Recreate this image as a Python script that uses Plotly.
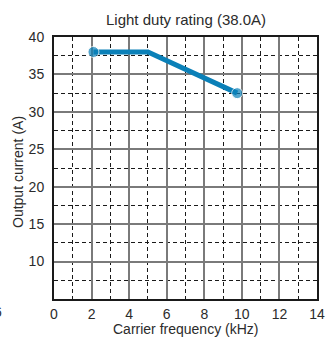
import plotly.graph_objects as go

# Derating curve: carrier frequency vs. allowed output current
freq_khz = [2.1, 5.0, 9.75]
current_a = [38.0, 38.0, 32.5]
marker_sizes = [11, 0, 11]

x_ticks = [0, 2, 4, 6, 8, 10, 12, 14]
y_ticks = [10, 15, 20, 25, 30, 35, 40]
x_minor = [1, 3, 5, 7, 9, 11, 13]
y_minor = [7.5, 12.5, 17.5, 22.5, 27.5, 32.5, 37.5]

W, H = 335, 339
L, R, T, B = 54, 18, 37, 40
PW = W - L - R
font_family = "Liberation Sans, Arial, sans-serif"
text_color = "#2b2b2b"
blue = "#0a80b8"

fig = go.Figure()
fig.add_trace(go.Scatter(
    x=freq_khz, y=current_a, mode="lines+markers",
    line=dict(color=blue, width=5),
    marker=dict(color=blue, size=marker_sizes),
    showlegend=False, cliponaxis=False,
))

axis_common = dict(
    showline=True, linecolor="#1a1a1a", linewidth=2, mirror=True,
    showgrid=True, gridcolor="#7a7a7a", gridwidth=1.5,
    zeroline=False, ticks="", fixedrange=True, automargin=False,
    tickfont=dict(family=font_family, size=14, color=text_color),
)
minor_grid = dict(showgrid=True, gridcolor="#1a1a1a",
                  griddash="4px,3px", gridwidth=1)

fig.update_xaxes(
    range=[0, 14], tickvals=x_ticks, **axis_common, ticklabelstandoff=1,
    minor=dict(tickvals=x_minor, **minor_grid),
)
fig.update_yaxes(
    range=[5, 40], tickvals=y_ticks, **axis_common, ticklabelstandoff=5,
    minor=dict(tickvals=y_minor, **minor_grid),
)

title_font = dict(family=font_family, size=14, color=text_color)
fig.add_annotation(
    text="Light duty rating (38.0A)", xref="paper", yref="paper",
    x=0.5, y=1, yshift=7, xanchor="center", yanchor="bottom",
    showarrow=False, font=dict(family=font_family, size=15, color=text_color),
)
fig.add_annotation(
    text="Carrier frequency (kHz)", xref="paper", yref="paper",
    x=0.5, y=0, yshift=-30, xanchor="center", yanchor="middle",
    showarrow=False, font=title_font,
)
fig.add_annotation(
    text="Output current (A)", xref="paper", yref="paper", textangle=-90,
    x=(18 - L) / PW, y=0.5, yshift=-4, xanchor="center", yanchor="middle",
    showarrow=False, font=title_font,
)
fig.add_annotation(
    text="6", xref="paper", yref="paper",
    x=(4 - L) / PW, y=0, yshift=-13, xanchor="right", yanchor="middle",
    showarrow=False, font=dict(family=font_family, size=14, color=text_color),
)

fig.update_layout(
    width=W, height=H, margin=dict(l=L, r=R, t=T, b=B),
    paper_bgcolor="white", plot_bgcolor="white",
)

fig.write_html("out.html")
